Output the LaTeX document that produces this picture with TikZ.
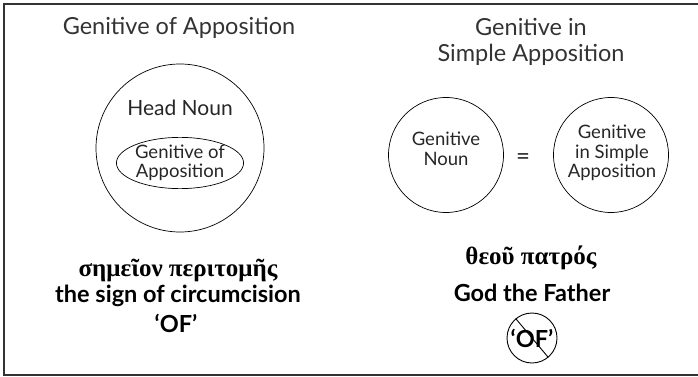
\documentclass[tikz,border=0pt]{standalone}
\usepackage{fontspec}
\setmainfont{Lato}
\newfontfamily\greekfont{Liberation Serif}
\usetikzlibrary{shapes.geometric}
\tikzset{
  heading/.style={text=black!80, font=\fontsize{23.5}{26}\selectfont, align=center},
  ring/.style={draw, circle, line width=0.7pt, inner sep=0pt},
  caption/.style={text=black!85, font=\fontsize{18.5}{19.5}\selectfont, align=center},
  boldline/.style={font=\bfseries\fontsize{23.5}{26}\selectfont},
  greekline/.style={font=\greekfont\bfseries\fontsize{25}{27}\selectfont},
}
\begin{document}
\begin{tikzpicture}[x=1pt, y=-1pt]
    \useasboundingbox (0,0) rectangle (698,377);
    \draw[line width=1.6pt, black!80] (4,4) rectangle (712,375);

    \node[heading] (lefttitle) at (179,28) {Genitive of Apposition};
    \node[heading] (righttitle) at (531,42) {Genitive in\\Simple Apposition};

    \node[ring, minimum size=168pt] (head) at (180,148) {};
    \node[caption, font=\fontsize{21}{24}\selectfont] (headlabel) at (180,108) {Head Noun};
    \node[draw, ellipse, line width=0.7pt, inner sep=0pt, minimum width=126pt, minimum height=47pt,
          caption] (appos) at (180,163) {Genitive of\\Apposition};

    \node[ring, minimum size=115pt] (gennoun) at (446,155) {};
    \node[caption] (gennounlabel) at (446,149) {Genitive\\Noun};
    \node[caption, font=\fontsize{24}{24}\selectfont] (equals) at (523,159) {=};
    \node[ring, minimum size=115pt] (simple) at (611,155) {};
    \node[caption] (simplelabel) at (612,153) {Genitive\\in Simple\\Apposition};

    \node[greekline] (greekleft) at (178,270) {σημεῖον περιτομῆς};
    \node[boldline] (english) at (178,296) {the sign of circumcision};
    \node[boldline] (of) at (176,323) {‘OF’};

    \node[greekline] (greekright) at (531,258) {θεοῦ πατρός};
    \node[boldline] (god) at (532,293) {God the Father};
    \node[boldline, ring, line width=0.9pt, minimum size=50pt] (notof) at (532,338) {‘OF’};
    \draw[line width=0.9pt] (notof.130) -- (notof.-50);
\end{tikzpicture}
\end{document}
